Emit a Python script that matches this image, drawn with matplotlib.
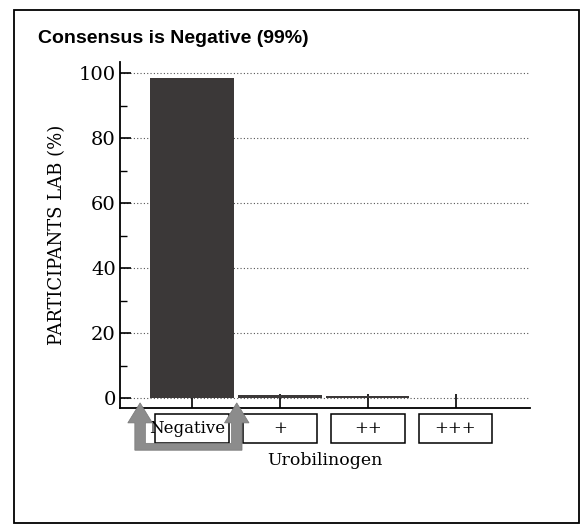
import matplotlib.pyplot as plt
from matplotlib.patches import Rectangle, Polygon

# Data
categories = ['Negative', '+', '++', '+++']
percent = [98.5, 0.8, 0.5, 0.0]
title = 'Consensus is Negative (99%)'

fig = plt.figure(figsize=(5.82, 5.32), dpi=100)
ax = fig.add_axes([0.206, 0.233, 0.705, 0.650])

x = list(range(len(categories)))
ax.bar(x, percent, width=0.95, color='#3b3838', zorder=3)

ax.set_xlim(-0.82, 3.85)
ax.set_ylim(-3.1, 103.4)
ax.set_yticks([0, 20, 40, 60, 80, 100])
ax.set_yticks([10, 30, 50, 70, 90], minor=True)
ax.set_xticks(x)
ax.set_xticklabels([])
ax.tick_params(axis='y', direction='in', length=8, width=1.2,
               labelsize=14, pad=3)
ax.tick_params(axis='y', which='minor', direction='in', length=5, width=1)
ax.tick_params(axis='x', direction='in', length=10, width=1.2)
for lab in ax.get_yticklabels():
    lab.set_family('DejaVu Serif')

ax.spines['top'].set_visible(False)
ax.spines['right'].set_visible(False)
ax.spines['left'].set_linewidth(1.3)
ax.spines['bottom'].set_linewidth(1.3)

for v in [0, 20, 40, 60, 80, 100]:
    ax.axhline(v, color='#555555', linestyle=(0, (1, 2)), linewidth=0.8, zorder=1)

ax.set_ylabel('PARTICIPANTS LAB (%)', family='DejaVu Serif', fontsize=13, labelpad=9)
ax.set_xlabel('Urobilinogen', family='DejaVu Serif', fontsize=12.5, labelpad=28)

# boxed category labels
trans = ax.get_xaxis_transform()
for i, c in enumerate(categories):
    ax.add_patch(Rectangle((i - 0.42, -0.10), 0.84, 0.082, transform=trans,
                           fill=False, edgecolor='black', linewidth=1.1,
                           clip_on=False))
    ax.text(i - 0.05 if i == 0 else i, -0.058, c, transform=trans,
            ha='center', va='center', family='DejaVu Serif', fontsize=12)

# grey U-shaped arrow around "Negative"
xl, xr = -0.59, 0.51
hw, hh = 0.06, 0.14
tip, base, bar_top, bot = 0.015, -0.043, -0.102, -0.122
pts = [(xl - hw, bot), (xl - hw, base), (xl - hh, base), (xl, tip),
       (xl + hh, base), (xl + hw, base), (xl + hw, bar_top),
       (xr - hw, bar_top), (xr - hw, base), (xr - hh, base), (xr, tip),
       (xr + hh, base), (xr + hw, base), (xr + hw, bot)]
ax.add_patch(Polygon(pts, closed=True, transform=trans, facecolor='#8c8c8c',
                     edgecolor='#777777', linewidth=0.5, clip_on=False, zorder=5))

fig.text(0.065, 0.928, title, fontsize=14, fontweight='bold',
         family='Liberation Sans', ha='left', va='center')

# outer frame
fig.patches.append(Rectangle((0.024, 0.017), 0.971, 0.964, transform=fig.transFigure,
                             fill=False, edgecolor='black', linewidth=1.3))

fig.savefig('out.png', dpi=100)
